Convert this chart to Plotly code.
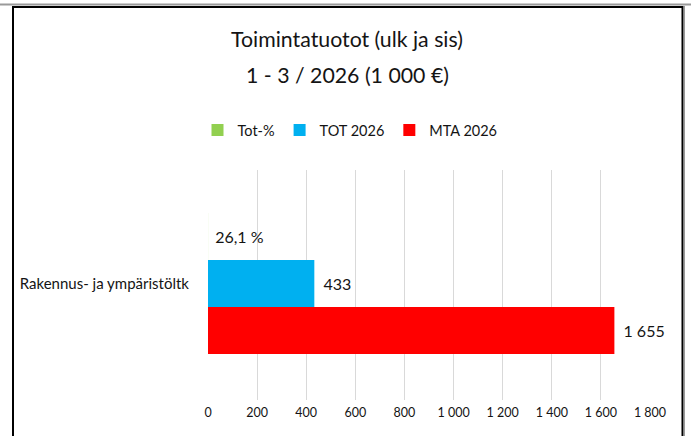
import plotly.graph_objects as go

# ---- data ----
categories = ["Rakennus- ja ympäristöltk"]
tot_pct = [0.261]          # Tot-% (share of MTA realised)
tot_2026 = [433]           # TOT 2026, 1 000 €
mta_2026 = [1655]          # MTA 2026, 1 000 €
x_ticks = [0, 200, 400, 600, 800, 1000, 1200, 1400, 1600, 1800]

title_line1 = "Toimintatuotot (ulk ja sis)"
title_line2 = "1 - 3 / 2026 (1 000 €)"

FONT = "Lato, Carlito, Calibri, sans-serif"
TXT = "#141414"


def fmt_int(v):
    return f"{v:,}".replace(",", " ")


def fmt_pct(v):
    return f"{v * 100:.1f}".replace(".", ",") + " %"


PAD = "\u00a0\u2009"
LBL = 16

fig = go.Figure()
# Order: bottom-most bar first (horizontal grouped bars stack upward)
fig.add_trace(go.Bar(
    name="MTA 2026", y=categories, x=mta_2026, orientation="h",
    marker=dict(color="#ff0000", line=dict(width=0)),
    text=[PAD + fmt_int(v) for v in mta_2026], textposition="outside",
    textfont=dict(size=LBL, color=TXT, family=FONT), cliponaxis=False,
))
fig.add_trace(go.Bar(
    name="TOT 2026", y=categories, x=tot_2026, orientation="h",
    marker=dict(color="#00b0f0", line=dict(width=0)),
    text=[PAD + fmt_int(v) for v in tot_2026], textposition="outside",
    textfont=dict(size=LBL, color=TXT, family=FONT), cliponaxis=False,
))
fig.add_trace(go.Bar(
    name="Tot-%", y=categories, x=tot_pct, orientation="h",
    marker=dict(color="rgba(146,208,80,0.999)", line=dict(width=0)),
    text=["\u00a0" + fmt_pct(v) for v in tot_pct], textposition="outside",
    textfont=dict(size=LBL, color=TXT, family=FONT), cliponaxis=False,
))

L, R, T, B = 208, 41, 170, 36
W, H = 691, 436
pw, ph = W - L - R, H - T - B


def px_x(p):
    return (p - L) / pw


def px_y(p):
    return (H - B - p) / ph


shapes = [
    # outer gray top rule
    dict(type="line", xref="paper", yref="paper", x0=px_x(0), x1=px_x(W),
         y0=px_y(4.5), y1=px_y(4.5), line=dict(color="#9a9a9a", width=2)),
    # black frame
    dict(type="rect", xref="paper", yref="paper", x0=px_x(13), x1=px_x(682.5),
         y0=px_y(445), y1=px_y(7), line=dict(color="#000000", width=2)),
    dict(type="line", xref="paper", yref="paper", x0=px_x(684.5), x1=px_x(684.5),
         y0=px_y(445), y1=px_y(6), line=dict(color="#9a9a9a", width=1)),
]

fig.update_layout(
    width=W, height=H,
    margin=dict(l=L, r=R, t=T, b=B, pad=0),
    paper_bgcolor="white", plot_bgcolor="white",
    separators=", ",
    font=dict(family=FONT, color=TXT),
    title=dict(text=title_line1, x=347 / W, xanchor="center",
               y=1 - 40 / H, yanchor="middle", yref="container", xref="container",
               font=dict(size=21.3, color=TXT, family=FONT)),
    annotations=[dict(text=title_line2, xref="paper", yref="paper",
                      x=px_x(347), y=px_y(75), xanchor="center", yanchor="middle",
                      showarrow=False, font=dict(size=21.3, color=TXT, family=FONT))],
    barmode="group", bargap=0.387, bargroupgap=0,
    legend=dict(orientation="h", traceorder="reversed", x=px_x(350), xanchor="center",
                y=px_y(130), yanchor="middle", font=dict(size=14.5, color=TXT, family=FONT),
                itemwidth=30, bgcolor="rgba(0,0,0,0)"),
    xaxis=dict(range=[0, 1800], tickvals=x_ticks, tickformat=",d", showgrid=True,
               gridcolor="#d9d9d9", gridwidth=1, zeroline=False, showline=False,
               ticks="", ticklabelstandoff=3,
               tickfont=dict(size=12.5, color=TXT, family=FONT)),
    yaxis=dict(type="category", range=[-0.507, 0.493], showgrid=False, zeroline=False,
               showline=False, ticks="", ticklabelstandoff=18,
               tickfont=dict(size=15, color=TXT, family=FONT)),
    shapes=shapes,
    showlegend=True,
)

fig.write_html("out.html", config={"displayModeBar": False},
               post_script="document.body.style.margin='0';")
